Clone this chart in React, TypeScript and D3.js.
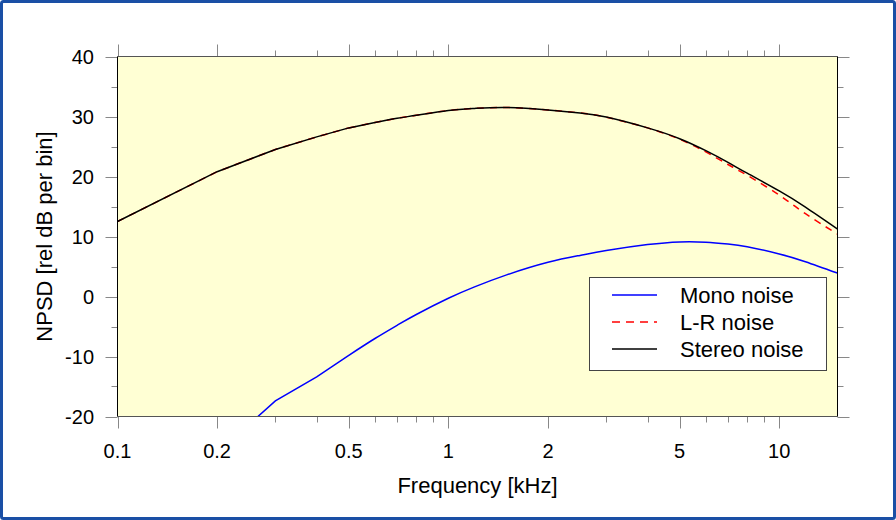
import React from 'react';
import * as d3 from 'd3';

// frequencies in kHz, values in rel dB per bin
const freqs = [0.1, 0.2, 0.3, 0.4, 0.5, 0.6, 0.7, 0.8, 1.0, 1.2, 1.5, 2, 2.5, 3, 4, 5, 6, 7, 8, 10, 12, 15];
const stereoNoise = [12.5, 20.8, 24.5, 26.6, 28.1, 29.0, 29.7, 30.2, 31.0, 31.35, 31.5, 31.1, 30.6, 29.9, 28.1, 26.3, 24.3, 22.35, 20.55, 17.6, 14.9, 11.25];
const lrNoise = [12.5, 20.8, 24.5, 26.6, 28.1, 29.0, 29.7, 30.2, 31.0, 31.35, 31.5, 31.1, 30.6, 29.9, 28.1, 26.2, 24.1, 22.0, 20.2, 16.9, 13.8, 10.4];
const monoFreqs = [0.2, 0.3, 0.4, 0.5, 0.6, 0.7, 0.8, 1.0, 1.2, 1.5, 2, 2.5, 3, 4, 5, 6, 7, 8, 10, 12, 15];
const monoNoise = [-26.1, -17.4, -13.4, -9.8, -7.0, -4.8, -3.0, -0.3, 1.6, 3.6, 5.7, 6.85, 7.65, 8.65, 9.1, 9.05, 8.75, 8.3, 7.1, 5.8, 3.9];

const xMajor = [0.1, 0.2, 0.5, 1, 2, 5, 10];
const xMajorLabels = ['0.1', '0.2', '0.5', '1', '2', '5', '10'];
const xMinor = [0.3, 0.4, 0.6, 0.7, 0.8, 0.9, 3, 4, 6, 7, 8, 9];
const yMajor = [-20, -10, 0, 10, 20, 30, 40];
const yMinor = [-15, -5, 5, 15, 25, 35];

const legendItems = [
    { label: 'Mono noise', color: '#0000ff', dash: undefined },
    { label: 'L-R noise', color: '#ff0000', dash: '8,6' },
    { label: 'Stereo noise', color: '#000000', dash: undefined },
];

const W = 896;
const H = 520;
const margin = { left: 117.5, right: 58.5, top: 56.5, bottom: 103.5 };
const font = '"Liberation Sans", Arial, Helvetica, sans-serif';
// below this frequency the source data is coarse, so keep straight segments
const smoothFrom = 0.5;

export default function App() {
    const x0 = margin.left;
    const x1 = W - margin.right;
    const y0 = margin.top;
    const y1 = H - margin.bottom;

    const x = d3.scaleLog().domain([0.1, 15]).range([x0, x1]);
    const y = d3.scaleLinear().domain([-20, 40]).range([y1, y0]);

    const straight = d3.line<[number, number]>()
        .x(d => x(d[0]))
        .y(d => y(d[1]))
        .curve(d3.curveLinear);
    const smooth = d3.line<[number, number]>()
        .x(d => x(d[0]))
        .y(d => y(d[1]))
        .curve(d3.curveNatural);

    const pathFor = (fs: number[], vs: number[]) => {
        const pts = fs.map((f, i) => [f, vs[i]] as [number, number]);
        const low = pts.filter(p => p[0] <= smoothFrom);
        const high = pts.filter(p => p[0] >= smoothFrom);
        return (straight(low) || '') + (smooth(high) || '');
    };

    const tickColor = '#888';
    const majLen = 12;
    const minLen = 6;

    return (
        <svg width={W} height={H} style={{ position: 'absolute', left: 0, top: 0, background: '#fff' }}>
            <defs>
                <clipPath id="plotClip">
                    <rect x={x0} y={y0} width={x1 - x0} height={y1 - y0} />
                </clipPath>
            </defs>
            <rect x={1.5} y={1.5} width={W - 3} height={H - 3} fill="#fff" stroke="#1a4fa5" strokeWidth={3} rx={2} />
            <rect x={x0} y={y0} width={x1 - x0} height={y1 - y0} fill="#ffffd4" />

            {/* ticks on all four sides, pointing outward */}
            <g stroke={tickColor} strokeWidth={1}>
                {xMajor.map(v => (
                    <g key={'xM' + v}>
                        <line x1={Math.round(x(v)) + 0.5} x2={Math.round(x(v)) + 0.5} y1={y1} y2={y1 + majLen} />
                        <line x1={Math.round(x(v)) + 0.5} x2={Math.round(x(v)) + 0.5} y1={y0} y2={y0 - majLen} />
                    </g>
                ))}
                {xMinor.map(v => (
                    <g key={'xm' + v}>
                        <line x1={Math.round(x(v)) + 0.5} x2={Math.round(x(v)) + 0.5} y1={y1} y2={y1 + minLen} />
                        <line x1={Math.round(x(v)) + 0.5} x2={Math.round(x(v)) + 0.5} y1={y0} y2={y0 - minLen} />
                    </g>
                ))}
                {yMajor.map(v => (
                    <g key={'yM' + v}>
                        <line x1={x0} x2={x0 - majLen} y1={Math.round(y(v)) + 0.5} y2={Math.round(y(v)) + 0.5} />
                        <line x1={x1} x2={x1 + majLen} y1={Math.round(y(v)) + 0.5} y2={Math.round(y(v)) + 0.5} />
                    </g>
                ))}
                {yMinor.map(v => (
                    <g key={'ym' + v}>
                        <line x1={x0} x2={x0 - minLen} y1={Math.round(y(v)) + 0.5} y2={Math.round(y(v)) + 0.5} />
                        <line x1={x1} x2={x1 + minLen} y1={Math.round(y(v)) + 0.5} y2={Math.round(y(v)) + 0.5} />
                    </g>
                ))}
            </g>

            <g clipPath="url(#plotClip)" fill="none" strokeWidth={1.5}>
                <path d={pathFor(monoFreqs, monoNoise)} stroke="#0000ff" />
                <path d={pathFor(freqs, lrNoise)} stroke="#ff0000" strokeDasharray="7,6" />
                <path d={pathFor(freqs, stereoNoise)} stroke="#000" />
            </g>

            {/* frame */}
            <line x1={x0} x2={x1} y1={y0} y2={y0} stroke="#555" />
            <line x1={x0} x2={x1} y1={y1} y2={y1} stroke="#555" />
            <line x1={x0} x2={x0} y1={y0} y2={y1} stroke="#000" />
            <line x1={x1} x2={x1} y1={y0} y2={y1} stroke="#000" />

            <g fontFamily={font} fontSize={20} fill="#000">
                {xMajor.map((v, i) => (
                    <text key={'xl' + v} x={x(v)} y={458} textAnchor="middle">{xMajorLabels[i]}</text>
                ))}
                {yMajor.map(v => (
                    <text key={'yl' + v} x={94} y={y(v)} dy="0.36em" textAnchor="end">{v}</text>
                ))}
            </g>

            <text x={(x0 + x1) / 2} y={493} textAnchor="middle" fontFamily={font} fontSize={22}>Frequency [kHz]</text>
            <text transform={`translate(${52},${(y0 + y1) / 2}) rotate(-90)`} textAnchor="middle" fontFamily={font} fontSize={22}>NPSD [rel dB per bin]</text>

            {/* legend */}
            <g>
                <rect x={589.5} y={277.5} width={237} height={93} fill="#fff" stroke="#444" strokeWidth={1} />
                {legendItems.map((it, i) => (
                    <g key={it.label}>
                        <line x1={612} x2={657} y1={295 + i * 27} y2={295 + i * 27} stroke={it.color} strokeWidth={1.5} strokeDasharray={it.dash} />
                        <text x={680} y={295 + i * 27} dy="0.36em" fontFamily={font} fontSize={22}>{it.label}</text>
                    </g>
                ))}
            </g>
        </svg>
    );
}
